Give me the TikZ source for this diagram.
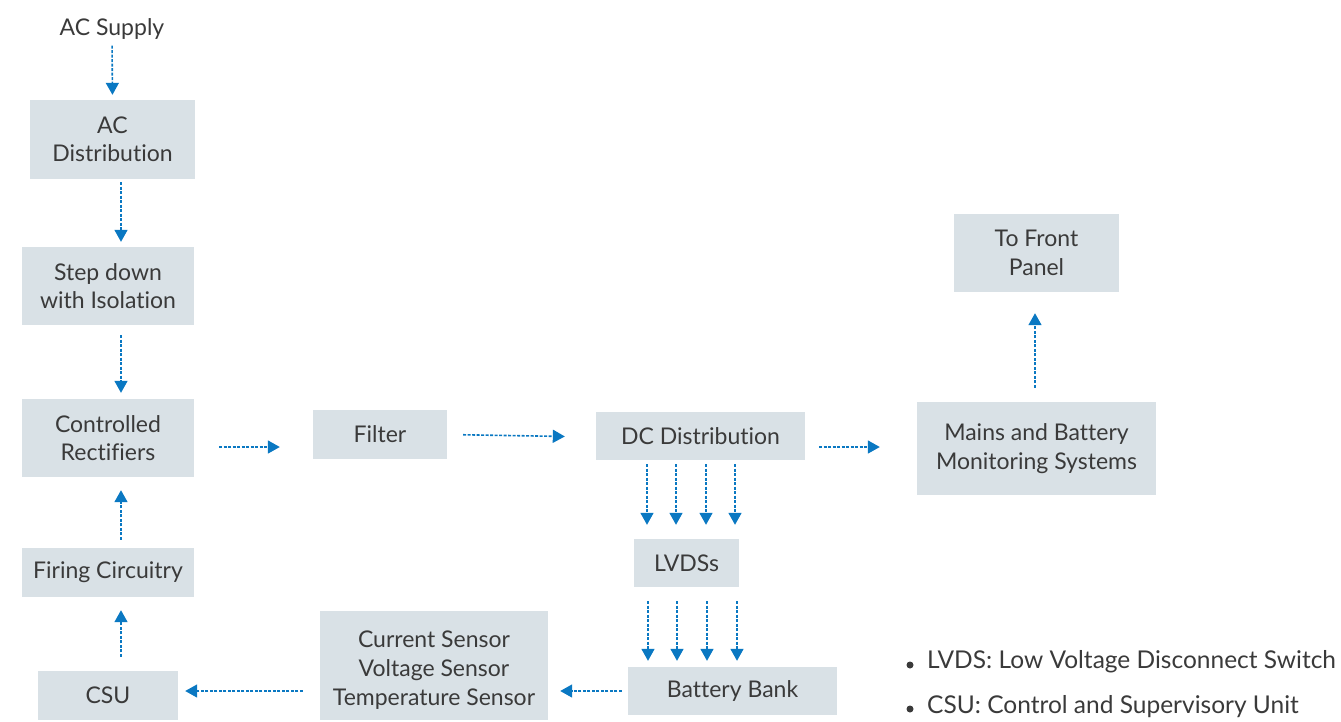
\documentclass[tikz,border=0pt]{standalone}
\usepackage{fontspec}
\setmainfont{Lato}[Ligatures={NoCommon}]
\usetikzlibrary{arrows.meta}
\definecolor{boxfill}{HTML}{D9E1E6}
\definecolor{flow}{HTML}{0A78C2}
\definecolor{ink}{HTML}{3A3A3A}
\tikzset{
  blk/.style={fill=boxfill, inner sep=0pt, align=center, text=ink,
    font=\fontsize{23}{28.5}\selectfont},
  lbl/.style={inner sep=0pt, align=center, text=ink,
    font=\fontsize{23}{28.5}\selectfont},
  keytext/.style={inner sep=0pt, text=ink, font=\fontsize{24.5}{28}\selectfont},
  flowarrow/.style={draw=flow, line width=1.6pt, dash pattern=on 3pt off 1.5pt,
    -{Triangle[length=12pt,width=13pt]}},
  dotmark/.style={circle, fill=ink, inner sep=0pt, minimum size=7pt}
}
\begin{document}
\begin{tikzpicture}[x=1pt,y=-1pt]
\useasboundingbox (0,0) rectangle (1341,721);

% blocks
\node[lbl] (acs) at (112,29) {AC Supply};
\node[blk, minimum width=165pt, minimum height=79pt] (acd) at (112.5,139.5) {AC\\Distribution};
\node[blk, minimum width=172pt, minimum height=78pt] (sdi) at (108,286) {Step down\\with Isolation};
\node[blk, minimum width=172pt, minimum height=78pt] (cr) at (108,438) {Controlled\\Rectifiers};
\node[blk, minimum width=172pt, minimum height=49pt] (fc) at (108,572.5) {Firing Circuitry};
\node[blk, minimum width=140pt, minimum height=49pt] (csu) at (108,695.5) {CSU};
\node[blk, minimum width=228pt, minimum height=109pt,
  label={[lbl, font=\fontsize{23}{29}\selectfont, yshift=-5pt]center:{Current Sensor\\Voltage Sensor\\Temperature Sensor}}]
  (sen) at (434,665.5) {};
\node[blk, minimum width=209pt, minimum height=48pt] (bb) at (732.5,691) {Battery Bank};
\node[blk, minimum width=105pt, minimum height=48pt] (lv) at (686.5,563) {LVDSs};
\node[blk, minimum width=209pt, minimum height=48pt] (dc) at (700.5,436) {DC Distribution};
\node[blk, minimum width=134pt, minimum height=49pt] (fil) at (380,434.5) {Filter};
\node[blk, minimum width=239pt, minimum height=93pt] (mbm) at (1036.5,448.5) {Mains and Battery\\Monitoring Systems};
\node[blk, minimum width=165pt, minimum height=78pt] (tfp) at (1036.5,253) {To Front\\Panel};

% connectors
\draw[flowarrow, shorten <=6pt, shorten >=5pt] (acs.south) -- (acd.north);
\draw[flowarrow, shorten <=3pt, shorten >=5pt] ([xshift=8.5pt]acd.south) -- ([xshift=13pt]sdi.north);
\draw[flowarrow, shorten <=10pt, shorten >=6pt] ([xshift=13pt]sdi.south) -- ([xshift=13pt]cr.north);
\draw[flowarrow, shorten <=8pt, shorten >=13pt] ([xshift=13pt]fc.north) -- ([xshift=13pt]cr.south);
\draw[flowarrow, shorten <=14pt, shorten >=13pt] ([xshift=13pt]csu.north) -- ([xshift=13pt]fc.south);
\draw[flowarrow, shorten <=17pt, shorten >=7pt] ([yshift=-25.5pt]sen.west) -- ([yshift=4.5pt]csu.east);
\draw[flowarrow, shorten <=6pt, shorten >=12pt] (bb.west) -- ([yshift=-25.5pt]sen.east);
\draw[flowarrow, shorten <=25pt, shorten >=33pt] ([yshift=-9pt]cr.east) -- ([yshift=-12.5pt]fil.west);
\draw[flowarrow, shorten <=16pt, shorten >=31pt] (fil.east) -- ([yshift=-1pt]dc.west);
\draw[flowarrow, shorten <=14pt, shorten >=37pt] ([yshift=-11pt]dc.east) -- ([yshift=1.5pt]mbm.west);
\draw[flowarrow, shorten <=14pt, shorten >=21pt] ([xshift=-1.5pt]mbm.north) -- ([xshift=-1.5pt]tfp.south);
\foreach \a/\b in {-53.5/-39.5, -24.5/-10.5, 5.5/19.5, 34.5/48.5}
  \draw[flowarrow, shorten <=4pt, shorten >=14pt] ([xshift=\a pt]dc.south) -- ([xshift=\b pt]lv.north);
\foreach \a/\b in {-38.5/-84.5, -9.5/-55.5, 20.5/-25.5, 50.5/4.5}
  \draw[flowarrow, shorten <=14pt, shorten >=6pt] ([xshift=\a pt]lv.south) -- ([xshift=\b pt]bb.north);

% legend
\node[dotmark] (d1) at (910,665) {};
\node[keytext, anchor=base west] (k1) at (927,668) {LVDS: Low Voltage Disconnect Switch};
\node[dotmark] (d2) at (910,709) {};
\node[keytext, anchor=base west] (k2) at (927,713) {CSU: Control and Supervisory Unit};
\end{tikzpicture}
\end{document}
